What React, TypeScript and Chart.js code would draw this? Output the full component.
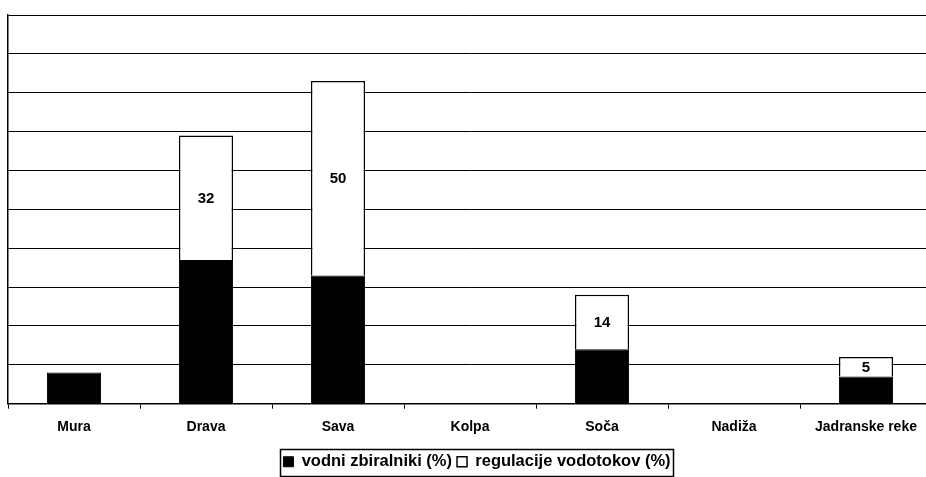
import React, { useEffect, useRef } from "react";
import { Chart, registerables } from "chart.js";

Chart.register(...registerables);

const categories = ["Mura", "Drava", "Sava", "Kolpa", "Soča", "Nadiža", "Jadranske reke"];
const reservoirs: (number | null)[] = [8, 37, 33, null, 14, null, 7];
const regulation: (number | null)[] = [null, 32, 50, null, 14, null, 5];
const seriesNames = ["vodni zbiralniki (%)", "regulacije vodotokov (%)"];
const yMin = 0;
const yMax = 100;
const yStep = 10;

const FONT = "'Liberation Sans', Arial, sans-serif";

const segmentLabels = {
  id: "segmentLabels",
  afterDatasetsDraw(chart: any) {
    const ctx = chart.ctx;
    const meta = chart.getDatasetMeta(1);
    ctx.save();
    ctx.font = `bold 15px ${FONT}`;
    ctx.fillStyle = "#000";
    ctx.textAlign = "center";
    ctx.textBaseline = "middle";
    meta.data.forEach((bar: any, i: number) => {
      const v = regulation[i];
      if (!v) return;
      const p = bar.getProps(["x", "y", "base"], true);
      ctx.fillText(String(v), p.x, (p.y + p.base) / 2 + 1);
    });
    ctx.restore();
  },
};

// nudge the legend block (it is centred on the full canvas otherwise)
const legendShift = {
  id: "legendShift",
  afterLayout(chart: any) {
    const lg = chart.legend;
    if (!lg) return;
    const dx = 7;
    const dy = 3;
    lg.left += dx;
    lg.right += dx;
    lg.top += dy;
    lg.bottom += dy;
  },
};

const legendFrame = {
  id: "legendFrame",
  afterDraw(chart: any) {
    const lg = chart.legend;
    if (!lg || !lg.legendHitBoxes || !lg.legendHitBoxes.length) return;
    const boxes = lg.legendHitBoxes;
    const left = Math.min(...boxes.map((b: any) => b.left)) - 3;
    const right = Math.max(...boxes.map((b: any) => b.left + b.width)) + 3;
    const top = Math.min(...boxes.map((b: any) => b.top)) - 5;
    const bottom = Math.max(...boxes.map((b: any) => b.top + b.height)) + 5;
    const ctx = chart.ctx;
    ctx.save();
    ctx.strokeStyle = "#000";
    ctx.lineWidth = 1.5;
    ctx.strokeRect(Math.round(left) + 0.5, Math.round(top) + 0.5, Math.round(right - left), Math.round(bottom - top));
    ctx.restore();
  },
};

export default function App() {
  const ref = useRef<HTMLCanvasElement | null>(null);

  useEffect(() => {
    if (!ref.current) return;
    const chart = new Chart(ref.current, {
      type: "bar",
      data: {
        labels: categories,
        datasets: [
          {
            label: seriesNames[0],
            data: reservoirs,
            backgroundColor: "#000000",
            borderColor: "#000000",
            borderWidth: 1,
          },
          {
            label: seriesNames[1],
            data: regulation,
            backgroundColor: "#ffffff",
            borderColor: "#000000",
            borderWidth: 1.5,
          },
        ],
      },
      options: {
        responsive: false,
        animation: false,
        devicePixelRatio: 1,
        datasets: {
          bar: { categoryPercentage: 1, barPercentage: 0.41 },
        },
        layout: { padding: { left: 8, right: 0, top: 15, bottom: 0 } },
        scales: {
          x: {
            stacked: true,
            grid: {
              display: true,
              drawOnChartArea: false,
              drawTicks: true,
              tickLength: 5,
              color: "#000",
              offset: true,
            },
            border: { display: true, color: "#000", width: 1.5 },
            ticks: {
              color: "#000",
              font: { family: FONT, size: 14, weight: "bold" },
              padding: 10,
              maxRotation: 0,
              autoSkip: false,
            },
          },
          y: {
            stacked: true,
            min: yMin,
            max: yMax,
            grid: { color: "#000", lineWidth: 1, drawTicks: false },
            border: { display: true, color: "#000", width: 1.5 },
            ticks: { display: false, stepSize: yStep },
          },
        },
        plugins: {
          legend: {
            display: true,
            position: "bottom",
            labels: {
              color: "#000",
              font: { family: FONT, size: 16.5, weight: "bold" },
              boxWidth: 10,
              boxHeight: 10,
              padding: 5,
            },
          },
          tooltip: { enabled: false },
        },
      },
      plugins: [segmentLabels, legendShift, legendFrame],
    });
    return () => chart.destroy();
  }, []);

  return (
    <div
      style={{
        position: "absolute",
        left: 0,
        top: 0,
        width: 926,
        height: 477,
        overflow: "hidden",
        background: "#fff",
      }}
    >
      <canvas ref={ref} width={932} height={477} style={{ display: "block" }} />
    </div>
  );
}
